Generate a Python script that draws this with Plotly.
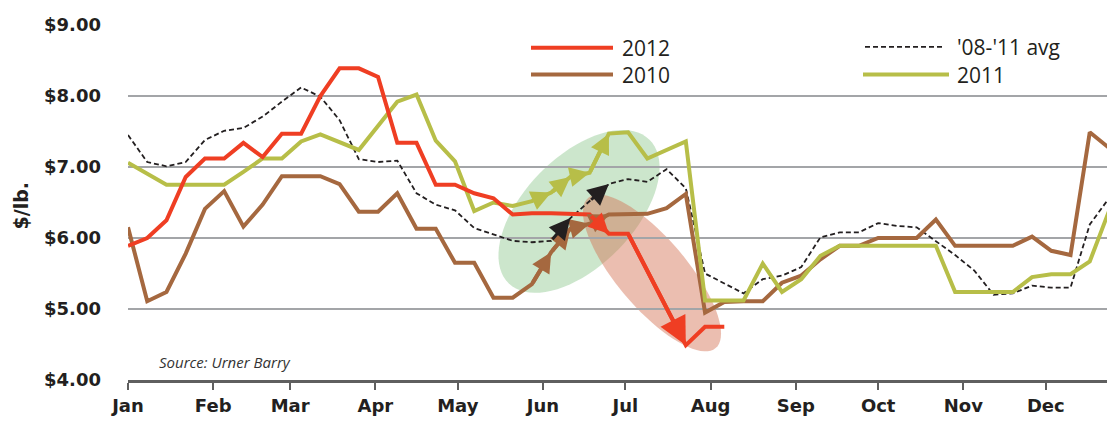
import numpy as np
import plotly.graph_objects as go

# ---------------- data ----------------
months = ["Jan", "Feb", "Mar", "Apr", "May", "Jun", "Jul", "Aug", "Sep", "Oct", "Nov", "Dec"]
month_days = [31, 28, 31, 30, 31, 30, 31, 31, 30, 31, 30, 31]
weeks = list(range(52))

price_2012 = [5.89, 6.00, 6.25, 6.86, 7.12, 7.12, 7.34, 7.14, 7.47, 7.47,
              8.00, 8.39, 8.39, 8.27, 7.34, 7.34, 6.75, 6.75, 6.63, 6.56,
              6.33, 6.35, 6.35, 6.34, 6.33, 6.06, 6.06, None, None, 4.49,
              4.75, 4.75] + [None] * 20

price_2010 = [6.15, 5.11, 5.24, 5.78, 6.41, 6.66, 6.16, 6.47, 6.87, 6.87,
              6.87, 6.76, 6.37, 6.37, 6.63, 6.13, 6.13, 5.65, 5.65, 5.16,
              5.16, 5.35, 5.80, 6.13, 6.20, 6.33, 6.34, 6.34, 6.42, 6.62,
              4.95, 5.10, 5.11, 5.11, 5.37, 5.47, 5.70, 5.89, 5.89, 6.00,
              6.00, 6.00, 6.26, 5.89, 5.89, 5.89, 5.89, 6.02, 5.82, 5.76,
              7.49, 7.27]

price_2011 = [7.06, None, 6.75, 6.75, 6.75, 6.75, 6.93, 7.12, 7.12, 7.36,
              7.46, 7.35, 7.24, None, 7.92, 8.02, 7.37, 7.08, 6.38, 6.50,
              6.45, 6.52, 6.64, 6.86, 6.92, 7.47, 7.49, 7.12, None, 7.36,
              5.12, 5.12, 5.12, 5.64, 5.24, 5.42, 5.75, 5.89, 5.89, 5.89,
              5.89, 5.89, 5.89, 5.24, 5.24, 5.24, 5.24, 5.45, 5.49, 5.49,
              5.67, 6.38]

price_avg = [7.45, 7.07, 7.01, 7.07, 7.38, 7.51, 7.55, 7.71, 7.92, 8.12,
             7.99, 7.66, 7.11, 7.07, 7.09, 6.63, 6.47, 6.39, 6.14, 6.05,
             5.96, 5.94, 5.96, 6.28, 6.52, 6.76, 6.83, 6.79, 6.97, 6.70,
             5.50, 5.36, 5.22, 5.42, 5.47, 5.59, 6.01, 6.08, 6.08, 6.21,
             6.17, 6.15, 5.95, 5.76, 5.54, 5.20, 5.22, 5.33, 5.30, 5.30,
             6.19, 6.56]

y_ticks = [4, 5, 6, 7, 8, 9]
y_tick_text = ["$4.00", "$5.00", "$6.00", "$7.00", "$8.00", "$9.00"]

# ---------------- styles ----------------
RED = "#EF3E23"
BROWN = "#A5683F"
GREEN = "#B7BE48"
BLACK = "#231F20"
GRID = "#A3A5A8"
AXIS = "#5F5F5F"

OFF = 8                      # default page body margin
W, H = 1115 - OFF, 426 - OFF
ML, MR, MT, MB = 128 - OFF, 6, 22 - OFF, 46
PW, PH = W - ML - MR, H - MT - MB
XMAX = 51
YMIN, YMAX = 4, 9
SX = PW / XMAX           # px per week
SY = PH / (YMAX - YMIN)  # px per dollar


# screen pixel (in the 1115x426 window) -> paper coordinates
def px(X):
    return (X - OFF - ML) / PW


def py(Y):
    return (H - MB - (Y - OFF)) / PH


# month tick positions in weeks
cum = np.concatenate([[0], np.cumsum(month_days)[:-1]])
tick_pos = [d / 7 for d in cum]

fig = go.Figure()


def ellipse_path(cx_px, cy_px, a, b, theta_deg, n=80):
    th = np.radians(theta_deg)
    t = np.linspace(0, 2 * np.pi, n, endpoint=False)
    dx = a * np.cos(t) * np.cos(th) - b * np.sin(t) * np.sin(th)
    dy = a * np.cos(t) * np.sin(th) + b * np.sin(t) * np.cos(th)
    xs = (cx_px + dx - OFF - ML) / SX
    ys = YMAX - (cy_px - dy - OFF - MT) / SY
    pts = " L".join(f"{x:.4f},{y:.4f}" for x, y in zip(xs, ys))
    return "M" + pts + " Z"


shapes = [
    dict(type="path", path=ellipse_path(579, 210, 101, 55, 46), xref="x", yref="y",
         fillcolor="rgba(100,180,100,0.33)", line=dict(width=0), layer="below"),
    dict(type="path", path=ellipse_path(652, 272, 99, 35, -50), xref="x", yref="y",
         fillcolor="rgba(210,110,80,0.45)", line=dict(width=0), layer="below"),
]

fig.add_trace(go.Scatter(x=weeks, y=price_avg, mode="lines", name="'08-'11 avg",
                         line=dict(color=BLACK, width=1.8, dash="5px,3px"), connectgaps=True))
fig.add_trace(go.Scatter(x=weeks, y=price_2010, mode="lines", name="2010",
                         line=dict(color=BROWN, width=4), connectgaps=True))
fig.add_trace(go.Scatter(x=weeks, y=price_2011, mode="lines", name="2011",
                         line=dict(color=GREEN, width=4), connectgaps=True))
fig.add_trace(go.Scatter(x=weeks, y=price_2012, mode="lines", name="2012",
                         line=dict(color=RED, width=4), connectgaps=True))

annotations = []


def arrow(series, i0, i1, color, size, width=4):
    annotations.append(dict(x=weeks[i1], y=series[i1], ax=weeks[i0], ay=series[i0],
                            xref="x", yref="y", axref="x", ayref="y", text="",
                            showarrow=True, arrowhead=2, arrowsize=size,
                            arrowwidth=width, arrowcolor=color, standoff=0))


for i in range(21, 25):
    arrow(price_2011, i, i + 1, GREEN, 1.0)
for i in range(21, 25):
    arrow(price_2010, i, i + 1, BROWN, 1.0)
arrow(price_avg, 22, 23, BLACK, 1.4, 3)
arrow(price_avg, 24, 25, BLACK, 1.4, 3)
arrow(price_2012, 24, 25, RED, 1.0)
arrow(price_2012, 26, 29, RED, 1.4)

# manual legend
LEG_FONT = dict(family="Open Sans", size=21, color=BLACK)
leg = [
    (531, 613, 45, RED, "solid", 4, "2012", 620),
    (531, 613, 72, BROWN, "solid", 4, "2010", 620),
    (865, 943, 44, BLACK, "dash", 1.8, "'08-'11 avg", 955),
    (863, 949, 72, GREEN, "solid", 4, "2011", 955),
]
for x0, x1, yy, col, dash, wd, label, tx in leg:
    shapes.append(dict(type="line", xref="paper", yref="paper", x0=px(x0), x1=px(x1),
                       y0=py(yy), y1=py(yy),
                       line=dict(color=col, width=wd, dash="5px,3px" if dash == "dash" else "solid")))
    annotations.append(dict(xref="paper", yref="paper", x=px(tx), y=py(yy), text=label,
                            showarrow=False, xanchor="left", yanchor="middle", font=LEG_FONT))

annotations.append(dict(xref="paper", yref="paper", x=px(157), y=py(362), text="<i>Source: Urner Barry</i>",
                        showarrow=False, xanchor="left", yanchor="middle",
                        font=dict(family="Open Sans", size=15, color="#333333")))
annotations.append(dict(xref="paper", yref="paper", x=px(21), y=py(204), text="<b>$/lb.</b>",
                        textangle=-90, showarrow=False, xanchor="center", yanchor="middle",
                        font=dict(family="DejaVu Sans", size=19, color=BLACK)))

fig.update_layout(
    width=W, height=H,
    margin=dict(l=ML, r=MR, t=MT, b=MB),
    paper_bgcolor="white", plot_bgcolor="white",
    showlegend=False,
    shapes=shapes,
    annotations=annotations,
    xaxis=dict(range=[0, XMAX], tickmode="array", tickvals=tick_pos, ticktext=months,
               showgrid=False, zeroline=False, showline=True, linecolor=AXIS, linewidth=3,
               ticks="outside", ticklen=7, tickwidth=2, tickcolor=AXIS,
               tickfont=dict(family="DejaVu Sans", size=18, color=BLACK, weight="bold")),
    yaxis=dict(range=[YMIN, YMAX], tickmode="array", tickvals=y_ticks, ticktext=y_tick_text,
               showgrid=True, gridcolor=GRID, gridwidth=2, zeroline=False, showline=False,
               ticks="", ticklabelstandoff=26,
               tickfont=dict(family="DejaVu Sans", size=18, color=BLACK, weight="bold")),
)

fig.write_html("out.html")
